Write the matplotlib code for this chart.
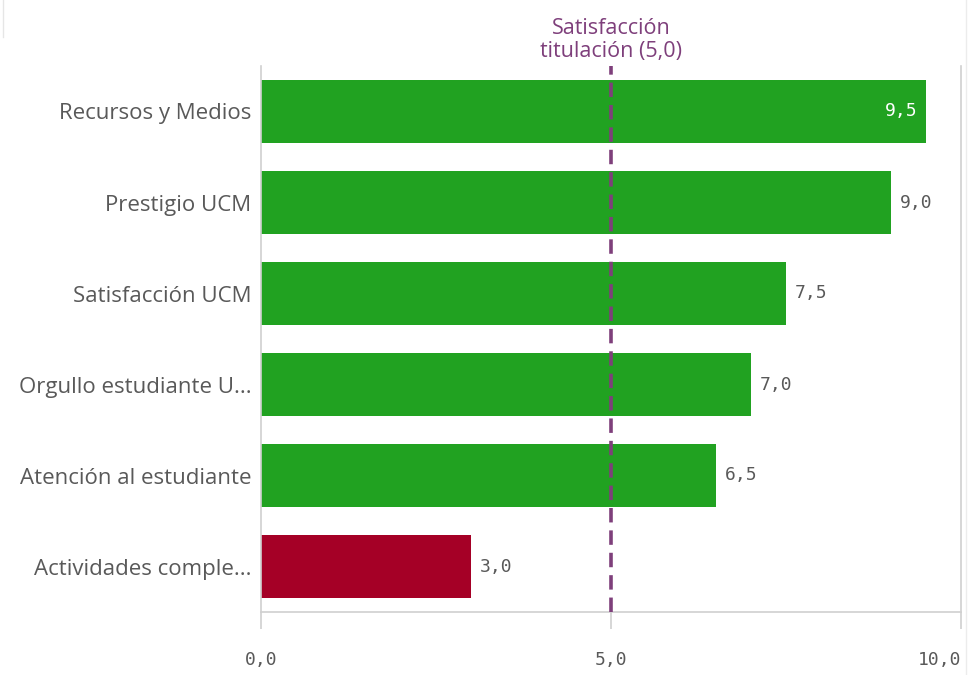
import matplotlib.pyplot as plt
from matplotlib.lines import Line2D

categories = [
    "Recursos y Medios",
    "Prestigio UCM",
    "Satisfacción UCM",
    "Orgullo estudiante U...",
    "Atención al estudiante",
    "Actividades comple...",
]
values = [9.5, 9.0, 7.5, 7.0, 6.5, 3.0]
reference_value = 5.0
reference_label = "Satisfacción\ntitulación (5,0)"
x_ticks = [0, 5, 10]

GREEN = "#21a221"
RED = "#a50026"
PURPLE = "#7e3f7b"
GREY_TEXT = "#595959"
GREY_LINE = "#d0d0d0"
LABEL_FONT = "Open Sans"
NUM_FONT = "DejaVu Sans Mono"


def fmt(v):
    return f"{v:.1f}".replace(".", ",")


fig = plt.figure(figsize=(9.78, 6.75), dpi=100)
ax = fig.add_axes([261 / 978, 1 - 612 / 675, 700 / 978, 546 / 675])

positions = list(range(len(categories)))
colors = [GREEN if v >= reference_value else RED for v in values]
ax.barh(positions, values, height=0.70, color=colors, zorder=2)

for pos, v in zip(positions, values):
    if v >= 9.25:
        ax.text(v - 0.12, pos, fmt(v), ha="right", va="center", color="white",
                fontsize=13, family=NUM_FONT, zorder=3)
    else:
        ax.text(v + 0.12, pos, fmt(v), ha="left", va="center", color=GREY_TEXT,
                fontsize=13, family=NUM_FONT, zorder=3)

ax.set_xlim(0, 10)
ax.set_ylim(len(categories) - 0.5, -0.5)

ax.axvline(reference_value, color=PURPLE, linestyle=(0, (4, 2.2)), linewidth=2.6, zorder=4)
ax.annotate(reference_label, xy=(reference_value, 1), xycoords=ax.get_xaxis_transform(),
            xytext=(0, 4), textcoords="offset pixels",
            ha="center", va="bottom", color=PURPLE, fontsize=15.5, family=LABEL_FONT,
            linespacing=1.1)

ax.set_yticks(positions)
ax.set_yticklabels(categories, fontsize=16, family=LABEL_FONT, color=GREY_TEXT)
ax.tick_params(axis="y", length=0, pad=7)

ax.set_xticks(x_ticks)
ax.set_xticklabels([fmt(t) for t in x_ticks], fontsize=13, family=NUM_FONT, color=GREY_TEXT)
ax.get_xticklabels()[-1].set_horizontalalignment("right")
ax.tick_params(axis="x", length=12, width=1.2, color=GREY_LINE, pad=16, direction="out")

ax.spines["top"].set_visible(False)
for side in ["left", "right", "bottom"]:
    ax.spines[side].set_color(GREY_LINE)
    ax.spines[side].set_linewidth(1.2)

# faint page borders
fig.add_artist(Line2D([3 / 978, 3 / 978], [1 - 37 / 675, 1], color="#e6e6e6", linewidth=1))
fig.add_artist(Line2D([966 / 978, 966 / 978], [0, 1], color="#ececec", linewidth=1))

fig.savefig("out.png", dpi=100)
